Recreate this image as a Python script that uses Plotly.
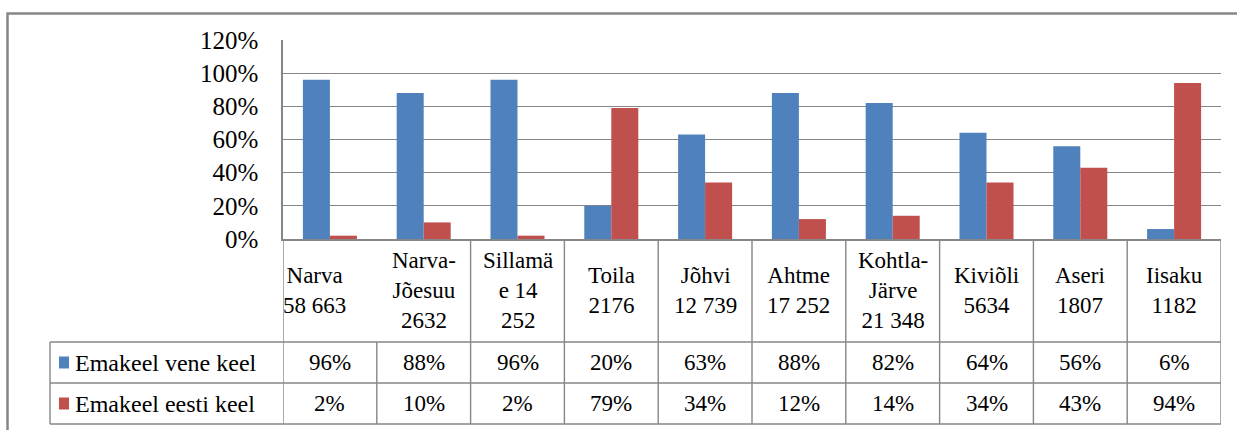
import plotly.graph_objects as go

# ---- data ----
categories = ["Narva<br>58 663", "Narva-<br>Jõesuu<br>2632", "Sillamä<br>e 14<br>252",
              "Toila<br>2176", "Jõhvi<br>12 739", "Ahtme<br>17 252",
              "Kohtla-<br>Järve<br>21 348", "Kiviõli<br>5634", "Aseri<br>1807", "Iisaku<br>1182"]
series_names = ["Emakeel vene keel", "Emakeel eesti keel"]
vene = [96, 88, 96, 20, 63, 88, 82, 64, 56, 6]
eesti = [2, 10, 2, 79, 34, 12, 14, 34, 43, 94]
y_ticks = [0, 20, 40, 60, 80, 100, 120]

# ---- styling ----
W, H = 1237, 430
BLUE, RED = "#4F81BD", "#C0504D"
GRID = "#868686"
FONT = "Liberation Serif, Tinos, Times New Roman, DejaVu Serif, serif"
FS = 23

def px(x):
    return x / W

def py(y):
    return 1 - y / H

PLOT_L, PLOT_R, PLOT_T, PLOT_B = 283, 1221, 40, 239
ROW1, ROW2, ROW3 = 342, 383, 424
LEG_L = 50

idx = list(range(len(categories)))

fig = go.Figure()
fig.add_trace(go.Bar(x=idx, y=vene, name=series_names[0], marker=dict(color=BLUE, line=dict(width=0))))
fig.add_trace(go.Bar(x=idx, y=eesti, name=series_names[1], marker=dict(color=RED, line=dict(width=0))))

shapes = []
# outer frame
shapes.append(dict(type="rect", xref="paper", yref="paper", x0=px(7.5), x1=px(1260), y0=py(13.5), y1=py(450),
                   line=dict(color=GRID, width=2.5)))
lw = 1.4
# header row verticals (no separator between first two, as in source)
for b in range(len(categories) + 1):
    if b == 1:
        continue
    shapes.append(dict(type="line", xref="x", yref="paper", x0=b - 0.5, x1=b - 0.5, y0=py(PLOT_B), y1=py(ROW1),
                       line=dict(color=GRID, width=lw)))
# data rows verticals
for b in range(len(categories) + 1):
    shapes.append(dict(type="line", xref="x", yref="paper", x0=b - 0.5, x1=b - 0.5, y0=py(ROW1), y1=py(ROW3),
                       line=dict(color=GRID, width=lw)))
shapes.append(dict(type="line", xref="paper", yref="paper", x0=px(LEG_L), x1=px(LEG_L), y0=py(ROW1), y1=py(ROW3),
                   line=dict(color=GRID, width=lw)))
for r in (ROW1, ROW2, ROW3):
    shapes.append(dict(type="line", xref="paper", yref="paper", x0=px(LEG_L), x1=px(PLOT_R), y0=py(r), y1=py(r),
                       line=dict(color=GRID, width=lw)))
# legend keys
for r_top, col in ((ROW1, BLUE), (ROW2, RED)):
    cy = r_top + 20.5
    shapes.append(dict(type="rect", xref="paper", yref="paper", x0=px(59), x1=px(69), y0=py(cy - 6), y1=py(cy + 6),
                       fillcolor=col, line=dict(width=0)))

annotations = []
font = dict(family=FONT, size=FS, color="black")
for i, c in enumerate(categories):
    annotations.append(dict(x=i, y=py((PLOT_B + ROW1) / 2), xref="x", yref="paper", text=c, showarrow=False,
                            xanchor="center", yanchor="middle", align="center",
                            font=dict(family=FONT, size=FS, color="black"),
                            xshift=-15 if i == 0 else 0))
for r_top, vals, name in ((ROW1, vene, series_names[0]), (ROW2, eesti, series_names[1])):
    cy = r_top + 20.5
    annotations.append(dict(x=px(73), y=py(cy), xref="paper", yref="paper", text=name, showarrow=False,
                            xanchor="left", yanchor="middle", font=dict(family=FONT, size=FS + 1, color="black")))
    for i, v in enumerate(vals):
        annotations.append(dict(x=i, y=py(cy), xref="x", yref="paper", text=f"{v}%", showarrow=False,
                                xanchor="center", yanchor="middle",
                                font=dict(family=FONT, size=FS, color="black")))

fig.update_layout(
    template="none",
    width=W, height=H,
    autosize=False,
    margin=dict(l=0, r=0, t=0, b=0, pad=0),
    paper_bgcolor="white", plot_bgcolor="white",
    showlegend=False,
    barmode="group", bargap=0.424, bargroupgap=0,
    font=font,
    xaxis=dict(domain=[px(PLOT_L), px(PLOT_R)], range=[-0.5, len(categories) - 0.5],
               showticklabels=False, showgrid=False, zeroline=False, ticks="", automargin=False,
               showline=True, linecolor=GRID, linewidth=1.5),
    yaxis=dict(domain=[py(PLOT_B), py(PLOT_T)], range=[0, 120], automargin=False,
               tickvals=y_ticks, ticktext=[f"{v}%" for v in y_ticks],
               showgrid=True, gridcolor=GRID, gridwidth=1.3, zeroline=False,
               showline=True, linecolor=GRID, linewidth=1.5,
               ticks="outside", ticklen=0, ticklabelstandoff=18,
               tickfont=dict(family=FONT, size=25, color="black")),
    shapes=shapes,
    annotations=annotations,
)

fig.write_html("out.html", config={"displayModeBar": False},
               post_script="document.body.style.margin='0';document.body.style.overflow='hidden';")
